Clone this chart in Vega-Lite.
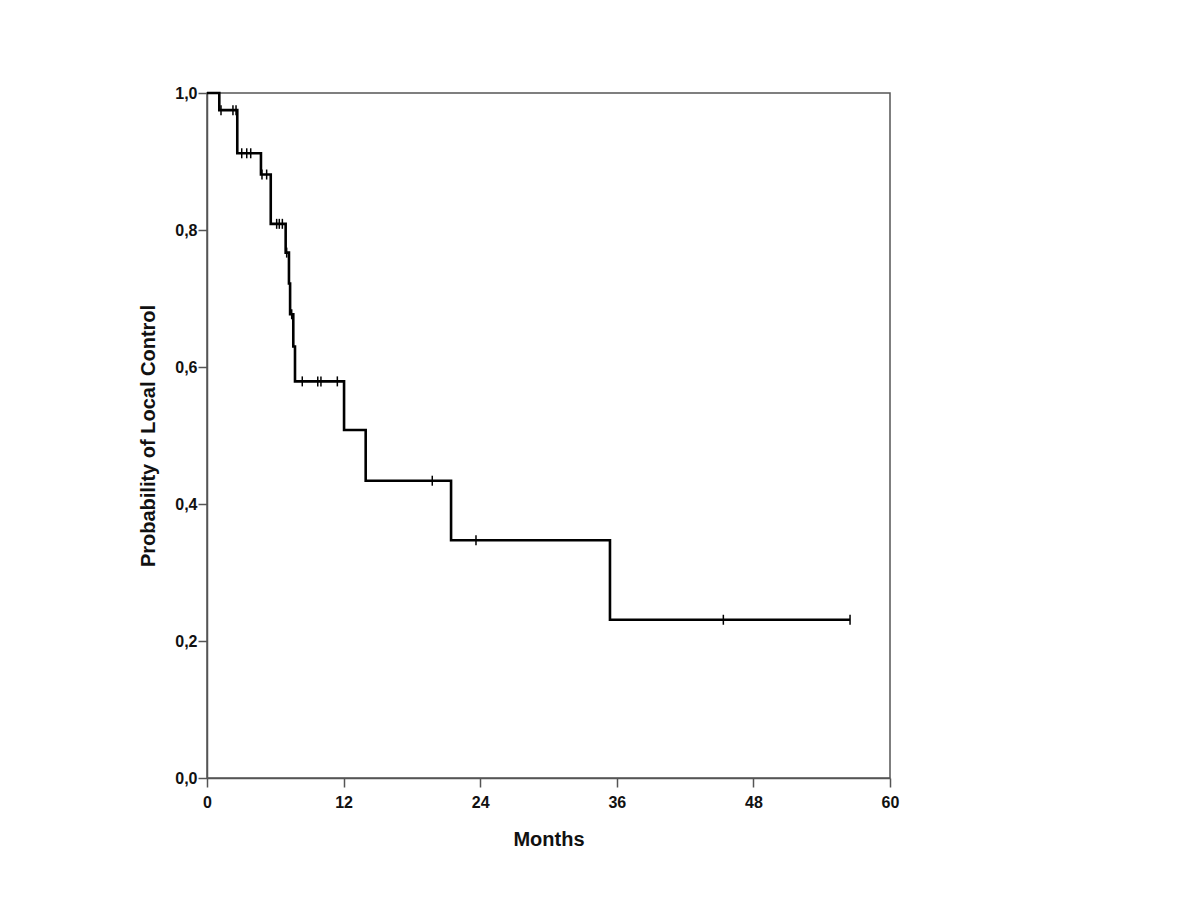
{
  "$schema": "https://vega.github.io/schema/vega-lite/v6.json",
  "autosize": "none",
  "width": 683,
  "height": 685,
  "padding": {"left": 207, "top": 93, "right": 310, "bottom": 122},
  "background": "white",
  "config": {
    "view": {"stroke": "#555", "strokeWidth": 1.5},
    "axis": {
      "grid": false,
      "domainColor": "#555",
      "domainWidth": 1.5,
      "tickColor": "#555",
      "tickWidth": 1.5,
      "tickSize": 9,
      "labelFlush": false,
      "labelFont": "Liberation Sans",
      "labelFontWeight": "bold",
      "labelFontSize": 16,
      "labelColor": "#111",
      "titleFont": "Liberation Sans",
      "titleFontWeight": "bold",
      "titleFontSize": 20,
      "titleColor": "#111"
    }
  },
  "data": {
    "values": [
      {"month": 0, "surv": 1.0, "type": "event"},
      {"month": 1.08, "surv": 0.975, "type": "event"},
      {"month": 1.23, "surv": 0.975, "type": "censor"},
      {"month": 2.28, "surv": 0.975, "type": "censor"},
      {"month": 2.55, "surv": 0.975, "type": "censor"},
      {"month": 2.66, "surv": 0.912, "type": "event"},
      {"month": 3.05, "surv": 0.912, "type": "censor"},
      {"month": 3.49, "surv": 0.912, "type": "censor"},
      {"month": 3.84, "surv": 0.912, "type": "censor"},
      {"month": 4.74, "surv": 0.881, "type": "event"},
      {"month": 4.83, "surv": 0.881, "type": "censor"},
      {"month": 5.24, "surv": 0.881, "type": "censor"},
      {"month": 5.6, "surv": 0.809, "type": "event"},
      {"month": 6.12, "surv": 0.809, "type": "censor"},
      {"month": 6.35, "surv": 0.809, "type": "censor"},
      {"month": 6.62, "surv": 0.809, "type": "censor"},
      {"month": 6.91, "surv": 0.767, "type": "event"},
      {"month": 7.0, "surv": 0.767, "type": "censor"},
      {"month": 7.2, "surv": 0.722, "type": "event"},
      {"month": 7.3, "surv": 0.677, "type": "event"},
      {"month": 7.44, "surv": 0.677, "type": "censor"},
      {"month": 7.58, "surv": 0.63, "type": "event"},
      {"month": 7.73, "surv": 0.579, "type": "event"},
      {"month": 8.37, "surv": 0.579, "type": "censor"},
      {"month": 9.73, "surv": 0.579, "type": "censor"},
      {"month": 10.01, "surv": 0.579, "type": "censor"},
      {"month": 11.45, "surv": 0.579, "type": "censor"},
      {"month": 12.04, "surv": 0.508, "type": "event"},
      {"month": 13.94, "surv": 0.434, "type": "event"},
      {"month": 19.79, "surv": 0.434, "type": "censor"},
      {"month": 21.44, "surv": 0.347, "type": "event"},
      {"month": 23.63, "surv": 0.347, "type": "censor"},
      {"month": 35.4, "surv": 0.231, "type": "event"},
      {"month": 45.36, "surv": 0.231, "type": "censor"},
      {"month": 56.49, "surv": 0.231, "type": "censor"}
    ]
  },
  "encoding": {
    "x": {
      "field": "month",
      "type": "quantitative",
      "scale": {"domain": [0, 60], "nice": false, "zero": false},
      "axis": {"values": [0, 12, 24, 36, 48, 60], "title": "Months", "titlePadding": 19, "labelPadding": 7}
    },
    "y": {
      "field": "surv",
      "type": "quantitative",
      "scale": {"domain": [0, 1], "nice": false},
      "axis": {
        "values": [0, 0.2, 0.4, 0.6, 0.8, 1.0],
        "labelExpr": "replace(format(datum.value, '.1f'), '.', ',')",
        "title": "Probability of Local Control",
        "titlePadding": 16,
        "labelPadding": 1
      }
    }
  },
  "layer": [
    {
      "mark": {"type": "line", "interpolate": "step-after", "color": "black", "strokeWidth": 2.6},
      "encoding": {"order": {"field": "month"}}
    },
    {
      "transform": [{"filter": "datum.type == 'censor'"}],
      "mark": {"type": "point", "shape": "M0,-1L0,1", "size": 100, "filled": false, "stroke": "black", "strokeWidth": 1.5, "opacity": 1}
    }
  ]
}
